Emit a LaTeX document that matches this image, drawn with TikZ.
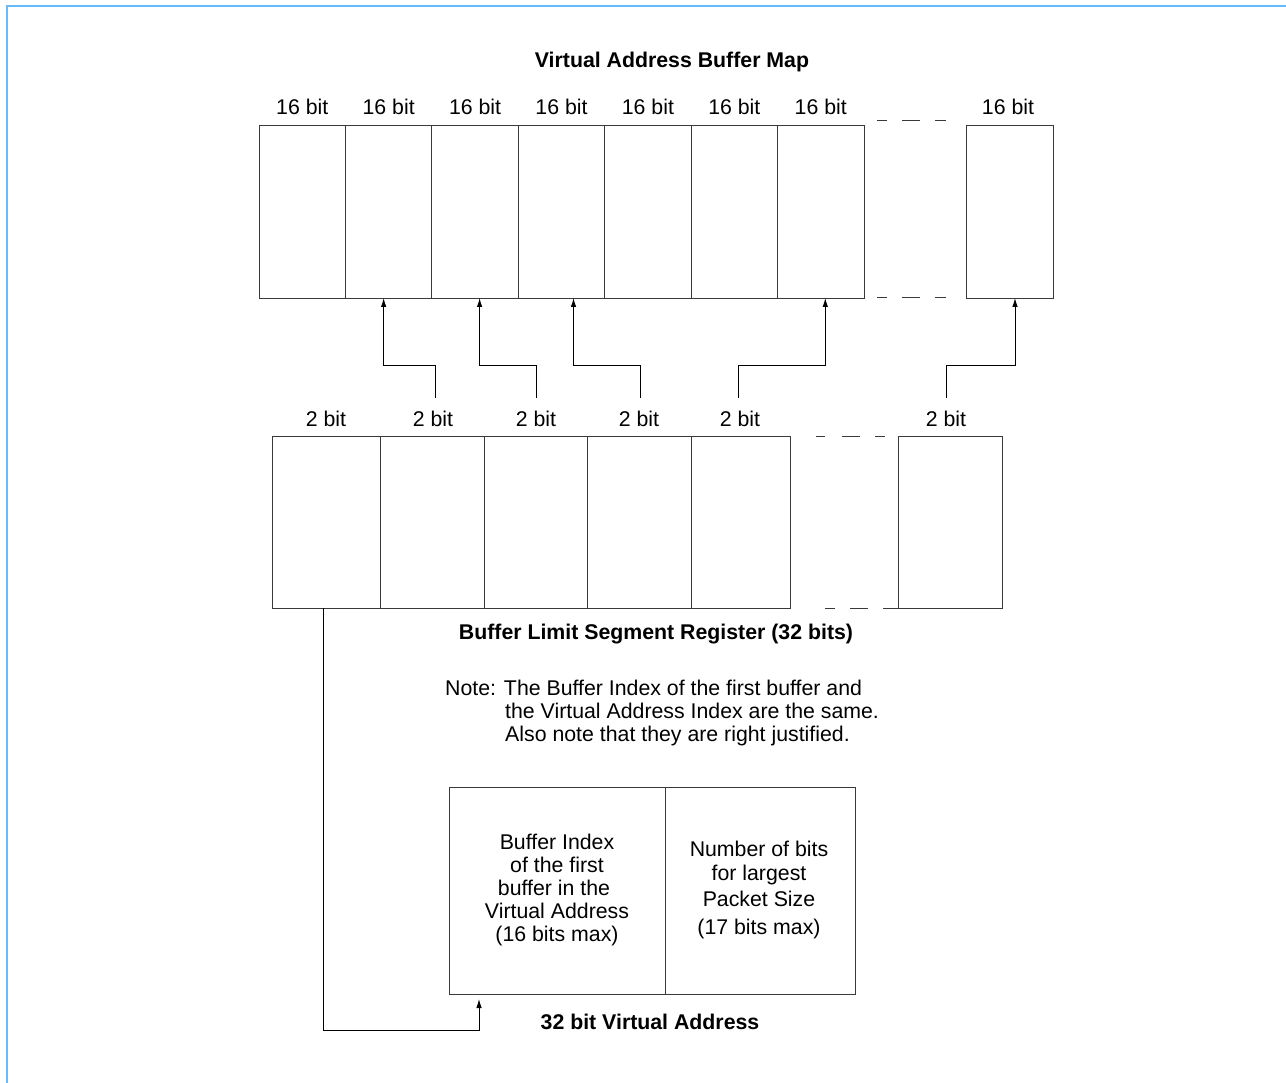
\documentclass[tikz,border=0pt]{standalone}
\usepackage{fontspec}
\setmainfont{Liberation Sans}
\usetikzlibrary{arrows.meta,calc}
\definecolor{frameblue}{HTML}{66BBFF}
\definecolor{ink}{HTML}{3A3A3A}
\begin{document}
\begin{tikzpicture}[x=1pt,y=-1pt,
  font=\fontsize{21.3}{23}\selectfont,
  cell/.style={draw=ink,line width=0.9pt,inner sep=0pt,outer sep=0pt},
  tcell/.style={cell,minimum width=86.4pt,minimum height=173pt},
  bcell/.style={cell,minimum height=172pt},
  lbl/.style={anchor=base,inner sep=0pt},
  ttl/.style={anchor=base,inner sep=0pt,font=\fontsize{21.3}{23}\selectfont\bfseries},
  conn/.style={draw=black,line width=0.9pt},
  arr/.style={conn,-{Latex[length=9pt,width=5.5pt]}},
  dashline/.style={draw=ink,line width=0.9pt}]
\useasboundingbox (0,0) rectangle (1286,1083);
% frame
\draw[frameblue,line width=2pt] (7,1083) -- (7,6) -- (1286,6);
% title
\node[ttl] (title) at (672,68) {Virtual Address Buffer Map};
% top row
\foreach \i in {1,...,7}{
  \node[tcell] (t\i) at ({259+86.43*(\i-0.5)},211.5) {};
  \node[lbl] (tl\i) at ({259+86.43*(\i-0.5)},115) {16 bit};
}
\node[tcell] (t8) at (1010,211.5) {};
\node[lbl] (tl8) at (1008,115) {16 bit};
\draw[dashline,dash pattern=on 10pt off 15pt on 18pt off 15pt on 11pt off 200pt] (877,120) -- (947,120);
\draw[dashline,dash pattern=on 10pt off 15pt on 18pt off 15pt on 11pt off 200pt] (877,297.5) -- (947,297.5);
% second row
\node[bcell,minimum width=108pt] (b1) at (326,522) {};
\node[bcell,minimum width=104pt] (b2) at (432,522) {};
\node[bcell,minimum width=103pt] (b3) at (535.5,522) {};
\node[bcell,minimum width=104pt] (b4) at (639,522) {};
\node[bcell,minimum width=99pt] (b5) at (740.5,522) {};
\node[bcell,minimum width=104pt] (b6) at (950,522) {};
\node[lbl] (bl1) at (326,427) {2 bit};
\node[lbl] (bl2) at (433,427) {2 bit};
\node[lbl] (bl3) at (536,427) {2 bit};
\node[lbl] (bl4) at (639,427) {2 bit};
\node[lbl] (bl5) at (740,427) {2 bit};
\node[lbl] (bl6) at (946,427) {2 bit};
\draw[dashline,dash pattern=on 9pt off 17pt on 18pt off 15pt on 10pt off 200pt] (816,436) -- (886,436);
\draw[dashline,dash pattern=on 10pt off 15pt on 18pt off 15pt on 15pt off 200pt] (825,608) -- (898,608);
% connectors
\draw[arr] ($(bl2.north)+(2,-13)$) -- ++(0,-33) -| ([xshift=-5pt]t2.south);
\draw[arr] ($(bl3.north)+(0,-13)$) -- ++(0,-33) -| ([xshift=4.5pt]t3.south);
\draw[arr] ($(bl4.north)+(1,-13)$) -- ++(0,-33) -| ([xshift=12pt]t4.south);
\draw[arr] ($(bl5.north)+(-2,-13)$) -- ++(0,-33) -| ([xshift=4.5pt]t7.south);
\draw[arr] ($(bl6.north)+(0,-13)$) -- ++(0,-33) -| ([xshift=5pt]t8.south);
\node[ttl] (bsr) at (656,639) {Buffer Limit Segment Register (32 bits)};
% note
\node[anchor=base west,inner sep=0pt] (note1) at (445,695) {Note: The Buffer Index of the first buffer and};
\node[anchor=base west,inner sep=0pt] (note2) at (505,718) {the Virtual Address Index are the same.};
\node[anchor=base west,inner sep=0pt] (note3) at (505,741) {Also note that they are right justified.};
% virtual address
\node[cell,minimum width=216pt,minimum height=207pt] (va1) at (557,890.5) {};
\node[cell,minimum width=190pt,minimum height=207pt] (va2) at (760,890.5) {};
\node[lbl] (vt1) at (557,849) {Buffer Index};
\node[lbl] (vt2) at (557,872) {of the first};
\node[lbl] (vt3) at (554,895) {buffer in the};
\node[lbl] (vt4) at (557,918) {Virtual Address};
\node[lbl] (vt5) at (557,941) {(16 bits max)};
\node[lbl] (vr1) at (759,856) {Number of bits};
\node[lbl] (vr2) at (759,880) {for largest};
\node[lbl] (vr3) at (759,906) {Packet Size};
\node[lbl] (vr4) at (759,934) {(17 bits max)};
\node[ttl] (vat) at (650,1029) {32 bit Virtual Address};
\draw[arr,shorten >=5pt] ([xshift=-3pt]b1.south) -- ++(0,422) -| ([xshift=-78pt]va1.south);
\end{tikzpicture}
\end{document}
